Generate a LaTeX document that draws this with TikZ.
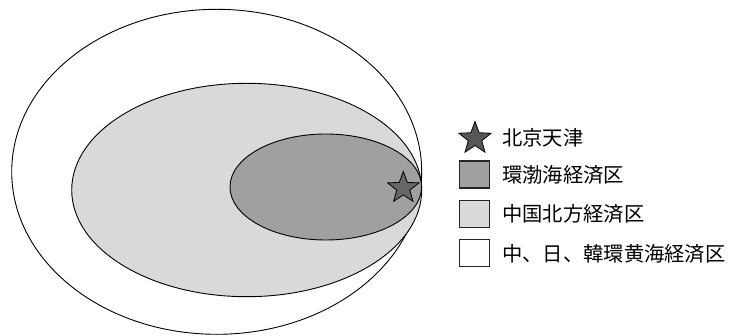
\documentclass[tikz,border=0pt]{standalone}
\usepackage{fontspec}
\newfontfamily\cjk{Noto Sans CJK JP}
\usetikzlibrary{shapes.geometric}
\definecolor{darkfill}{HTML}{A0A0A0}
\definecolor{lightfill}{HTML}{D9D9D9}
\definecolor{starfill}{HTML}{666666}
\tikzset{
  region/.style={draw=black, line width=0.9pt},
  starmark/.style={star, star points=5, star point ratio=2.4, minimum size=#1, inner sep=0pt, draw=black, line width=0.8pt, fill=starfill},
  keybox/.style={draw=black!85, line width=1.4pt, minimum width=30pt, minimum height=27pt, inner sep=0pt},
  keytext/.style={anchor=west, inner sep=0pt, font=\cjk\fontsize{20.3}{24}\selectfont}
}
\begin{document}
\begin{tikzpicture}[x=1pt,y=-1pt]
\useasboundingbox (0,0) rectangle (730,336);
% regions
\path[region, fill=white] (216.7,171.8) ellipse [x radius=205, y radius=162.5];
\path[region, fill=lightfill] (246.7,190) ellipse [x radius=175, y radius=106.7];
\path[region, fill=darkfill] (325.8,187) ellipse [x radius=95.8, y radius=53];
\node[starmark=33pt] (bj) at (403.3,188) {};
% legend
\node[starmark=34pt, fill=starfill!85!black] (k0) at (475,138.5) {};
\node[keytext] (t0) at (502,138) {北京天津};
\node[keybox, fill=darkfill] (k1) at (474.5,174.7) {};
\node[keytext] (t1) at (502,175) {環渤海経済区};
\node[keybox, fill=lightfill] (k2) at (474.5,214) {};
\node[keytext] (t2) at (502,214) {中国北方経済区};
\node[keybox, fill=white] (k3) at (474.5,253.3) {};
\node[keytext] (t3) at (502,253.5) {中、日、韓環黄海経済区};
\end{tikzpicture}
\end{document}
